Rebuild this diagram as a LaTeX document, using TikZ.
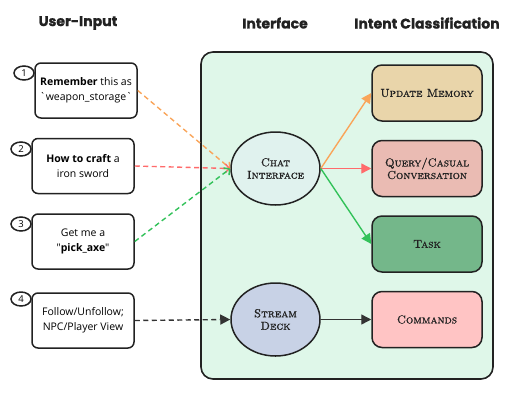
\documentclass[tikz,border=0pt]{standalone}
\usepackage{fontspec}
\newfontfamily\boxfont{Open Sans}
\newfontfamily\titlefont{Poppins}[UprightFont={* Bold}, FakeBold=1.2]
\newfontfamily\scfont{lmromancaps10-regular.otf}[FakeBold=1.2]
\usetikzlibrary{arrows.meta,shapes.geometric}
\definecolor{contfill}{HTML}{DFF7E9}
\definecolor{chatfill}{HTML}{E0F2EE}
\definecolor{deckfill}{HTML}{C8D2E6}
\definecolor{umfill}{HTML}{E9D5AA}
\definecolor{qfill}{HTML}{EABBB3}
\definecolor{taskfill}{HTML}{74B78A}
\definecolor{cmdfill}{HTML}{FFC4C4}
\definecolor{lineorange}{HTML}{F9A55A}
\definecolor{linered}{HTML}{FF6B6B}
\definecolor{linegreen}{HTML}{33C25A}
\definecolor{linedark}{HTML}{333333}
\definecolor{edge}{HTML}{222222}
\tikzset{
  inbox/.style={draw=edge, line width=1.5pt, fill=white, rounded corners=6pt, minimum width=102pt, minimum height=55pt, align=center, font=\boxfont\fontsize{10.5}{15}\selectfont, inner sep=2pt},
  numcirc/.style={ellipse, draw=edge, line width=1.5pt, fill=white, minimum width=20pt, minimum height=14pt, inner sep=0pt, font=\boxfont\fontsize{9.5}{9.5}\selectfont},
  oval/.style={ellipse, draw=edge, line width=1.5pt, minimum width=89pt, minimum height=73pt, inner sep=0pt, align=center, font=\scfont\fontsize{11.5}{12.5}\selectfont, text=edge},
  classbox/.style={draw=edge, line width=1.5pt, rounded corners=10pt, minimum width=110pt, minimum height=56pt, align=center, font=\scfont\fontsize{11.5}{12.5}\selectfont, text=edge},
  titletext/.style={font=\titlefont\fontsize{14}{16}\selectfont, text=edge},
  dasharrow/.style={line width=1.4pt, dash pattern=on 5pt off 3.5pt, -{Straight Barb[length=4pt,width=9pt]}},
  solidarrow/.style={line width=1.4pt, -{Triangle[length=10pt,width=10pt]}},
}
\begin{document}
\begin{tikzpicture}[x=1pt,y=-1pt]
\useasboundingbox (0,0) rectangle (513,405);
% titles
\node[titletext] (t1) at (78,23) {User-Input};
\node[titletext] (t2) at (275,23) {Interface};
\node[titletext] (t3) at (427,23) {Intent Classification};
% container
\draw[draw=edge, line width=1.6pt, fill=contfill, rounded corners=12pt] (201,52) rectangle (493,379);
% inputs
\node[inbox] (b1) at (86,90.5) {\textbf{Remember} this as\\\textasciigrave weapon\_storage\textasciigrave};
\node[inbox] (b2) at (83,166) {\textbf{How to craft} a\\iron sword};
\node[inbox] (b3) at (83,241.5) {Get me a\\"\textbf{pick\_axe}"};
\node[inbox] (b4) at (83,320.5) {Follow/Unfollow;\\NPC/Player View};
\node[numcirc] (n1) at (24,73) {1};
\node[numcirc] (n2) at (21,149) {2};
\node[numcirc] (n3) at (21,224) {3};
\node[numcirc] (n4) at (21,299) {4};
% interface
\node[oval, fill=chatfill] (chat) at (275.5,168.5) {Chat\\Interface};
\node[oval, fill=deckfill] (deck) at (275.5,319.5) {Stream\\Deck};
% classes
\node[classbox, fill=umfill] (um) at (427,93) {Update Memory};
\node[classbox, fill=qfill] (q) at (427,168.5) {Query/Casual\\Conversation};
\node[classbox, fill=taskfill] (task) at (427,244) {Task};
\node[classbox, fill=cmdfill] (cmd) at (427,319.5) {Commands};
% connectors
\draw[dasharrow, lineorange] (b1.east) -- (chat.west);
\draw[dasharrow, linered] (b2.east) -- (chat.west);
\draw[dasharrow, linegreen] (b3.east) -- (chat.west);
\draw[line width=1.4pt, dash pattern=on 5pt off 3.5pt, -{Triangle[length=10pt,width=10pt]}, linedark] (b4.east) -- (deck.west);
\draw[solidarrow, lineorange] (chat.east) -- (um.west);
\draw[solidarrow, linered] (chat.east) -- (q.west);
\draw[solidarrow, linegreen] (chat.east) -- (task.west);
\draw[solidarrow, linedark] (deck.east) -- (cmd.west);
\end{tikzpicture}
\end{document}
